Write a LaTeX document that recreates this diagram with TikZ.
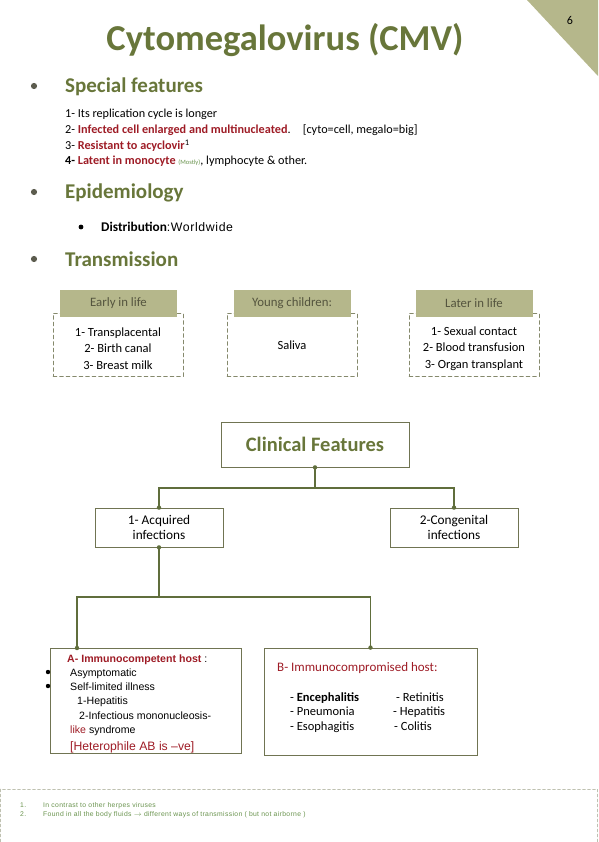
\documentclass[tikz,border=0pt]{standalone}
\usepackage{fontspec}
\setmainfont{Carlito}
\newfontfamily\arialfont{Liberation Sans}
\newfontfamily\widearial[LetterSpace=5]{Liberation Sans}
\usetikzlibrary{arrows.meta}
\usepackage{xcolor}
\definecolor{olivetitle}{RGB}{104,118,58}
\definecolor{khaki}{RGB}{181,183,139}
\definecolor{cmvred}{RGB}{158,28,38}
\definecolor{boxline}{RGB}{112,116,82}
\definecolor{linkgreen}{RGB}{96,110,60}
\definecolor{headtext}{RGB}{84,84,62}
\definecolor{notegreen}{RGB}{104,146,76}
\definecolor{dotgray}{RGB}{92,92,78}

\begin{document}
\begin{tikzpicture}[x=1pt,y=-1pt,line cap=round,
  heading/.style={anchor=base west,inner sep=0pt,text=olivetitle,font=\fontsize{21}{24}\selectfont\bfseries},
  item/.style={anchor=base west,inner sep=0pt,font=\fontsize{12.2}{14}\selectfont},
  headbox/.style={fill=khaki,minimum width=117pt,minimum height=27pt,inner sep=0pt,text=headtext,font=\fontsize{12.8}{14}\selectfont},
  dashbox/.style={draw=boxline!85,dash pattern=on 4pt off 2.5pt,minimum width=130pt,minimum height=63pt,inner sep=0pt},
  dashtext/.style={inner sep=0pt,align=center,font=\fontsize{12.5}{16.5}\selectfont},
  treebox/.style={draw=boxline,line width=0.8pt,inner sep=0pt,align=center},
  link/.style={draw=linkgreen,line width=1.6pt},
  atext/.style={anchor=base west,inner sep=0pt,font=\arialfont\fontsize{10.6}{12}\selectfont},
  btext/.style={anchor=base west,inner sep=0pt,font=\fontsize{12.5}{14}\selectfont},
  note/.style={anchor=base west,inner sep=0pt,text=notegreen,font=\widearial\fontsize{6.8}{7.5}\selectfont}]
\useasboundingbox (0,0) rectangle (598,842);
\fill[khaki] (527,0) -- (598,0) -- (598,76) -- cycle;
\node[font=\fontsize{12}{13}\selectfont] (pagenum) at (570,20) {6};
\node[text=olivetitle,font=\fontsize{36.5}{40}\selectfont\bfseries] (title) at (285,40) {Cytomegalovirus (CMV)};

\fill[dotgray] (34,86) circle (3.1pt);
\node[heading] (special) at (65,93) {Special features};
\node[item] (sf1) at (65,118) {1- Its replication cycle is longer};
\node[item] (sf2) at (65,134) {2- \textcolor{cmvred}{\bfseries Infected cell enlarged and multinucleated}.\quad[cyto=cell, megalo=big]};
\node[item] (sf3) at (65,150) {3- \textcolor{cmvred}{\bfseries Resistant to acyclovir}\textsuperscript{1}};
\node[item] (sf4) at (65,165) {\bfseries 4- \textcolor{cmvred}{Latent in monocyte} \mdseries{\fontsize{6.5}{7}\selectfont\textcolor{notegreen}{(Mostly)}}, lymphocyte \& other.};

\fill[dotgray] (34,192) circle (3.1pt);
\node[heading] (epidem) at (65,199) {Epidemiology};
\fill (81,227) circle (2.4pt);
\node[item] (distrib) at (101,231) {\bfseries\fontsize{13.3}{15}\selectfont Distribution\mdseries\widearial\fontsize{12.3}{14}\selectfont:Worldwide};

\fill[dotgray] (34,259) circle (3.1pt);
\node[heading] (transm) at (65,266) {Transmission};

\node[dashbox] (early) at (118,345) {};
\node[dashtext] (earlytext) at (118,348.5) {1- Transplacental\\2- Birth canal\\3- Breast milk};
\node[headbox] (earlyhead) at (118.5,303.5) {Early in life};
\node[dashbox] (young) at (292,345) {};
\node[dashtext] (youngtext) at (292,345.5) {Saliva};
\node[headbox] (younghead) at (292,303.5) {Young children:};
\node[dashbox] (later) at (474,345) {};
\node[dashtext] (latertext) at (474,348.5) {1- Sexual contact\\2- Blood transfusion\\3- Organ transplant};
\node[headbox] (laterhead) at (474,303.5) {Later in life};

\node[treebox,minimum width=188pt,minimum height=45pt,text=olivetitle,font=\fontsize{20.5}{23}\selectfont\bfseries] (clin) at (315,444.5) {Clinical Features};
\node[treebox,minimum width=128pt,minimum height=39pt,font=\fontsize{13.3}{15}\selectfont] (acq) at (159,527.5) {1- Acquired\\infections};
\node[treebox,minimum width=128pt,minimum height=39pt,font=\fontsize{13.3}{15}\selectfont] (cong) at (454,527.5) {2-Congenital\\infections};
\node[treebox,minimum width=191pt,minimum height=105pt] (abox) at (145.5,700.5) {};
\node[treebox,minimum width=213pt,minimum height=107pt] (bbox) at (370.5,701.5) {};

\coordinate (split1) at (315,488);
\coordinate (split2) at (159,597);
\coordinate (atop) at (77,648);
\draw[link] (clin.south) -- (split1) -| (acq.north);
\draw[link] (split1) -| (cong.north);
\draw[link] (acq.south) -- (split2) -| (atop);
\draw[link] (split2) -| (bbox.north);
\fill[linkgreen] (clin.south) circle (2.2pt) (acq.north) circle (2.2pt) (cong.north) circle (2.2pt)
  (acq.south) circle (2.2pt) (atop) circle (2.2pt) (bbox.north) circle (2.2pt);

\node[atext,text=cmvred] (a1) at (67,662) {\bfseries A- Immunocompetent host\mdseries\textcolor{black}{\ :}};
\fill (48,672) circle (2.2pt) (48,686) circle (2.2pt);
\node[atext] (a2) at (70,676) {Asymptomatic};
\node[atext] (a3) at (70,690) {Self-limited illness};
\node[atext] (a4) at (77,704) {1-Hepatitis};
\node[atext] (a5) at (79,719) {2-Infectious mononucleosis-};
\node[atext] (a6) at (70,733) {\textcolor{cmvred}{like} syndrome};
\node[atext,text=cmvred,font=\arialfont\fontsize{12.2}{14}\selectfont] (a7) at (70,750) {[Heterophile AB is \textendash ve]};

\node[btext,text=cmvred,font=\fontsize{13}{15}\selectfont] (b1) at (277,671.5) {B- Immunocompromised host:};
\node[btext] (b2) at (290,701) {- \bfseries Encephalitis};
\node[btext] (b3) at (290,715.5) {- Pneumonia};
\node[btext] (b4) at (290,730) {- Esophagitis};
\node[btext] (b5) at (396,701) {- Retinitis};
\node[btext] (b6) at (393,715.5) {- Hepatitis};
\node[btext] (b7) at (394,730) {- Colitis};

\draw[boxline!45,dash pattern=on 3pt off 2pt] (0.5,842) -- (0.5,789) -- (597.5,789) -- (597.5,842);
\node[note] (n1) at (20,807) {1.};
\node[note] (n1t) at (43,807) {In contrast to other herpes viruses};
\node[note] (n2) at (20,816) {2.};
\node[note] (n2t) at (43,816) {Found in all the body fluids $\rightarrow$ different ways of transmission ( but not airborne )};
\end{tikzpicture}
\end{document}
